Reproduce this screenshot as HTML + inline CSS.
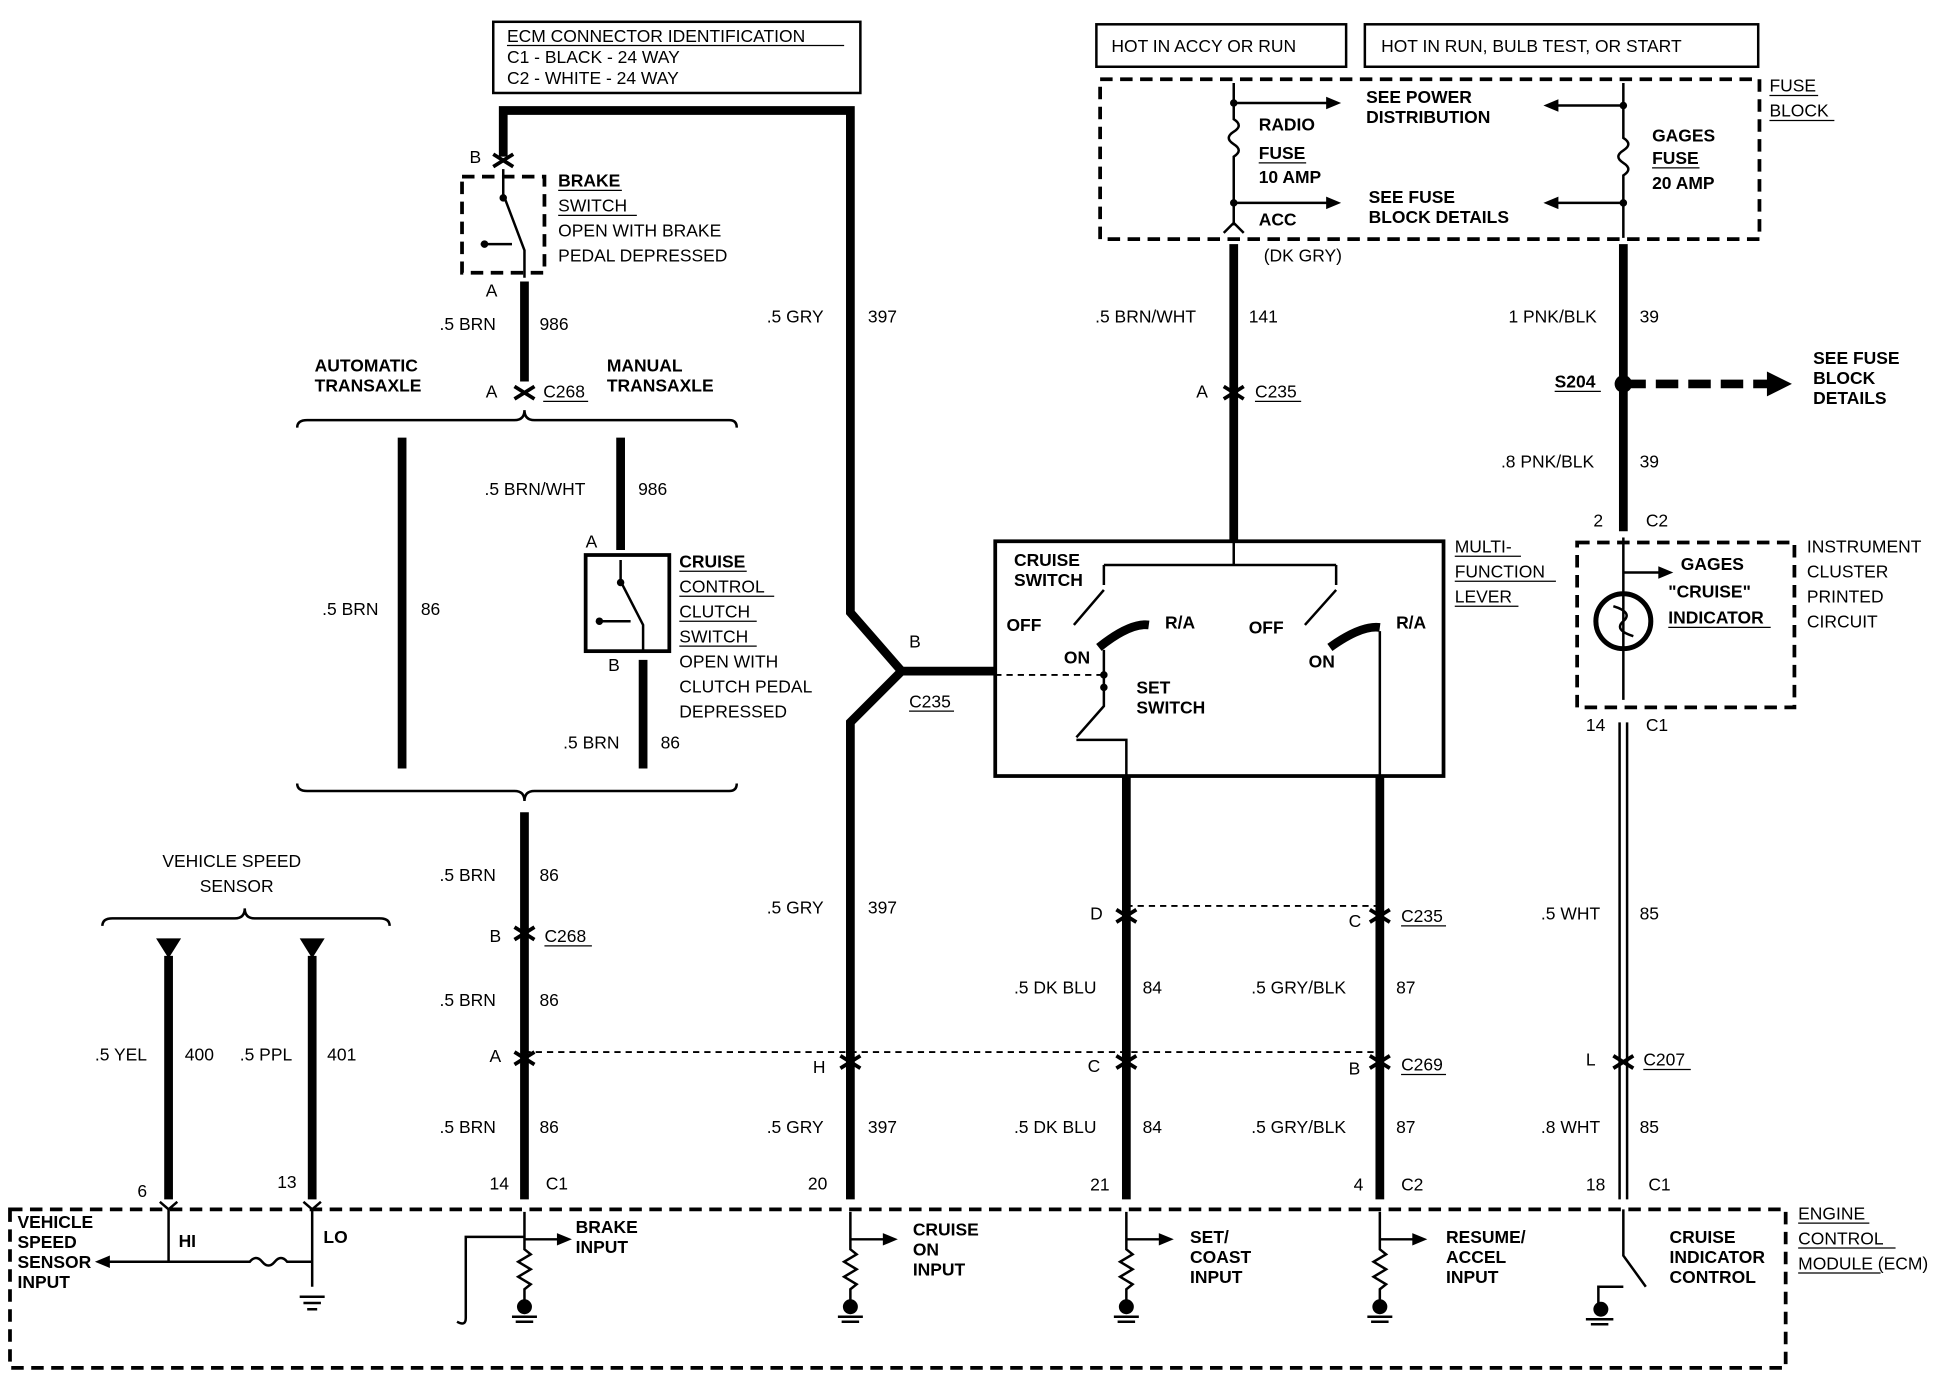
<!DOCTYPE html>
<html><head><meta charset="utf-8"><style>
html,body{margin:0;padding:0;background:#fff;}
svg{display:block;}
text{font-family:"Liberation Sans",sans-serif;font-size:14px;fill:#000;}
.b{font-weight:bold;}
.w{stroke:#000;stroke-width:7;fill:none;}
.t{stroke:#000;stroke-width:2;fill:none;}
.d{stroke:#000;stroke-width:3;fill:none;stroke-dasharray:10,6;}
.dl{stroke:#000;stroke-width:1.5;fill:none;stroke-dasharray:5,4;}
</style></head><body>
<svg width="1958" height="1376" viewBox="0 0 1568 1101" xmlns="http://www.w3.org/2000/svg">
<defs>
<g id="cn"><path d="M-8,-5 L0,0 L8,-5 M-8,5 L0,0 L8,5" stroke="#000" stroke-width="3" fill="none"/></g>
<g id="pull">
<path class="t" d="M0,0 L0,30 L5,34 L-5,40 L5,46 L-5,52 L5,58 L0,62 L0,72 M0,22 L28,22"/>
<path d="M26,17 L38,22 L26,27Z"/>
<circle cx="0" cy="76" r="6"/><path class="t" d="M-10,84 L10,84 M-7,88 L7,88"/>
</g>
</defs>
<!-- ECM connector ID -->
<rect x="395" y="17" width="294" height="57" class="t"/>
<text x="406" y="33">ECM CONNECTOR IDENTIFICATION</text>
<line x1="406" y1="36" x2="676" y2="36" stroke="#000"/>
<text x="406" y="50">C1 - BLACK - 24 WAY</text>
<text x="406" y="67">C2 - WHITE - 24 WAY</text>

<path class="w" d="M403,125 L403,88 L681,88 L681,490 L722,537 L681,578 L681,960"/>
<path class="w" d="M722,537 L797,537"/>
<text x="614" y="258">.5 GRY</text><text x="695" y="258">397</text>
<text x="614" y="731">.5 GRY</text><text x="695" y="731">397</text>
<text x="614" y="907">.5 GRY</text><text x="695" y="907">397</text>
<text x="728" y="518">B</text><text x="728" y="566">C235</text><line x1="728" y1="569" x2="764" y2="569" stroke="#000"/>
<text x="651" y="859">H</text><use href="#cn" x="681" y="850"/>
<text x="647" y="952">20</text>

<text x="376" y="130">B</text>
<use href="#cn" x="403" y="128"/>
<rect x="370" y="141" width="66" height="77" class="d"/>
<path class="t" d="M403,135 L403,155 L420,200 L420,222 M385,195 L410,195"/>
<circle cx="403" cy="158" r="3"/><circle cx="388" cy="195" r="3"/>
<text x="447" y="149" class="b">BRAKE</text><line x1="447" y1="152" x2="498" y2="152" stroke="#000"/>
<text x="447" y="169">SWITCH</text><line x1="447" y1="172" x2="510" y2="172" stroke="#000"/>
<text x="447" y="189">OPEN WITH BRAKE</text>
<text x="447" y="209">PEDAL DEPRESSED</text>
<text x="389" y="237">A</text>
<path class="w" d="M420,225 L420,305"/>
<text x="352" y="264">.5 BRN</text><text x="432" y="264">986</text>
<text x="389" y="318">A</text><text x="435" y="318">C268</text><line x1="435" y1="321" x2="471" y2="321" stroke="#000"/>
<use href="#cn" x="420" y="314"/>
<text x="252" y="297" class="b">AUTOMATIC</text><text x="252" y="313" class="b">TRANSAXLE</text>
<text x="486" y="297" class="b">MANUAL</text><text x="486" y="313" class="b">TRANSAXLE</text>
<path class="t" stroke-width="3" d="M238,342 Q238,336 246,336 L412,336 Q420,336 420,328 Q420,336 428,336 L584,336 Q590,336 590,342"/>
<path class="t" stroke-width="3" d="M238,627 Q238,633 246,633 L412,633 Q420,633 420,641 Q420,633 428,633 L584,633 Q590,633 590,627"/>
<path class="w" d="M322,350 L322,615"/>
<path class="w" d="M497,350 L497,440"/>
<path class="w" d="M515,528 L515,615"/>
<text x="258" y="492">.5 BRN</text><text x="337" y="492">86</text>
<text x="388" y="396">.5 BRN/WHT</text><text x="511" y="396">986</text>
<text x="469" y="438">A</text>
<rect x="469" y="444" width="67" height="77" fill="none" stroke="#000" stroke-width="3"/>
<path class="t" d="M497,448 L497,465 L515,500 L515,520 M478,497 L505,497"/>
<circle cx="497" cy="466" r="3"/><circle cx="480" cy="497" r="3"/>
<text x="544" y="454" class="b">CRUISE</text><line x1="544" y1="457" x2="598" y2="457" stroke="#000"/>
<text x="544" y="474">CONTROL</text><line x1="544" y1="477" x2="620" y2="477" stroke="#000"/>
<text x="544" y="494">CLUTCH</text><line x1="544" y1="497" x2="606" y2="497" stroke="#000"/>
<text x="544" y="514">SWITCH</text><line x1="544" y1="517" x2="606" y2="517" stroke="#000"/>
<text x="544" y="534">OPEN WITH</text><text x="544" y="554">CLUTCH PEDAL</text><text x="544" y="574">DEPRESSED</text>
<text x="487" y="537">B</text>
<text x="451" y="599">.5 BRN</text><text x="529" y="599">86</text>
<path class="w" d="M420,650 L420,960"/>
<text x="352" y="705">.5 BRN</text><text x="432" y="705">86</text>
<text x="392" y="754">B</text><use href="#cn" x="420" y="747"/><text x="436" y="754">C268</text><line x1="436" y1="757" x2="474" y2="757" stroke="#000"/>
<text x="352" y="805">.5 BRN</text><text x="432" y="805">86</text>
<text x="392" y="850">A</text><use href="#cn" x="420" y="847"/>
<text x="352" y="907">.5 BRN</text><text x="432" y="907">86</text>
<text x="392" y="952">14</text><text x="437" y="952">C1</text>
<text x="130" y="694">VEHICLE SPEED</text><text x="160" y="714">SENSOR</text>
<path class="t" stroke-width="3" d="M82,741 Q82,735 90,735 L188,735 Q196,735 196,727 Q196,735 204,735 L304,735 Q312,735 312,741"/>
<path d="M125,751 L145,751 L135,767 Z"/><path d="M240,751 L260,751 L250,767 Z"/>
<path class="w" d="M135,765 L135,960 M250,765 L250,960"/>
<text x="76" y="849">.5 YEL</text><text x="148" y="849">400</text>
<text x="192" y="849">.5 PPL</text><text x="262" y="849">401</text>
<text x="110" y="958">6</text><text x="222" y="951">13</text>
<path class="dl" d="M420,842 L1105,842"/>
<rect x="878" y="19" width="200" height="34" class="t"/>
<text x="890" y="41">HOT IN ACCY OR RUN</text>
<rect x="1093" y="19" width="315" height="34" class="t"/>
<text x="1106" y="41">HOT IN RUN, BULB TEST, OR START</text>
<rect x="881" y="63" width="528" height="128" class="d"/>
<text x="1417" y="73">FUSE</text><line x1="1417" y1="76" x2="1456" y2="76" stroke="#000"/>
<text x="1417" y="93">BLOCK</text><line x1="1417" y1="96" x2="1469" y2="96" stroke="#000"/>
<path class="t" d="M988,66 L988,95 Q996,100 988,105 Q980,110 988,115 Q996,120 988,125 L988,180"/>
<circle cx="988" cy="82" r="3"/><circle cx="988" cy="162" r="3"/>
<path class="t" d="M988,82 L1065,82 M988,162 L1065,162"/><path d="M1062,77 L1074,82 L1062,87Z M1062,157 L1074,162 L1062,167Z"/>
<text x="1008" y="104" class="b">RADIO</text>
<text x="1008" y="127" class="b">FUSE</text><line x1="1008" y1="130" x2="1046" y2="130" stroke="#000"/>
<text x="1008" y="146" class="b">10 AMP</text>
<text x="1094" y="82" class="b">SEE POWER</text><text x="1094" y="98" class="b">DISTRIBUTION</text>
<text x="1096" y="162" class="b">SEE FUSE</text><text x="1096" y="178" class="b">BLOCK DETAILS</text>
<text x="1008" y="180" class="b">ACC</text>
<path d="M980,186 L988,178 L996,186" class="t"/>
<text x="1012" y="209">(DK GRY)</text>
<path class="t" d="M1300,66 L1300,110 Q1308,115 1300,120 Q1292,125 1300,130 Q1308,135 1300,140 L1300,190"/>
<circle cx="1300" cy="84" r="3"/><circle cx="1300" cy="162" r="3"/>
<path class="t" d="M1245,84 L1300,84 M1245,162 L1300,162"/><path d="M1248,79 L1236,84 L1248,89Z M1248,157 L1236,162 L1248,167Z"/>
<text x="1323" y="113" class="b">GAGES</text>
<text x="1323" y="131" class="b">FUSE</text><line x1="1323" y1="134" x2="1361" y2="134" stroke="#000"/>
<text x="1323" y="151" class="b">20 AMP</text>
<path class="w" d="M988,195 L988,433"/>
<text x="877" y="258">.5 BRN/WHT</text><text x="1000" y="258">141</text>
<text x="958" y="318">A</text><use href="#cn" x="988" y="314"/><text x="1005" y="318">C235</text><line x1="1005" y1="321" x2="1042" y2="321" stroke="#000"/>
<path class="w" d="M1300,195 L1300,425"/>
<text x="1208" y="258">1 PNK/BLK</text><text x="1313" y="258">39</text>
<circle cx="1300" cy="307" r="7"/>
<text x="1245" y="310" class="b">S204</text><line x1="1245" y1="313" x2="1282" y2="313" stroke="#000"/>
<path d="M1300,307 L1420,307" stroke="#000" stroke-width="7" stroke-dasharray="18,8"/>
<path d="M1415,297 L1435,307 L1415,317Z"/>
<text x="1452" y="291" class="b">SEE FUSE</text><text x="1452" y="307" class="b">BLOCK</text><text x="1452" y="323" class="b">DETAILS</text>
<text x="1202" y="374">.8 PNK/BLK</text><text x="1313" y="374">39</text>
<text x="1276" y="421">2</text><text x="1318" y="421">C2</text>
<rect x="1263" y="434" width="174" height="132" class="d"/>
<path class="t" d="M1300,430 L1300,560"/>
<path class="t" d="M1300,458 L1330,458"/><path d="M1328,453 L1340,458 L1328,463Z"/>
<circle cx="1300" cy="497" r="22" fill="#fff" stroke="#000" stroke-width="4"/>
<path class="t" d="M1300,475 L1300,519 M1292,485 Q1308,490 1300,497 Q1292,504 1308,509"/>
<text x="1346" y="456" class="b">GAGES</text>
<text x="1336" y="478" class="b">"CRUISE"</text>
<text x="1336" y="499" class="b">INDICATOR</text><line x1="1336" y1="502" x2="1418" y2="502" stroke="#000"/>
<text x="1447" y="442">INSTRUMENT</text><text x="1447" y="462">CLUSTER</text><text x="1447" y="482">PRINTED</text><text x="1447" y="502">CIRCUIT</text>
<text x="1270" y="585">14</text><text x="1318" y="585">C1</text>
<path d="M1297,578 L1297,960 M1303,578 L1303,960" stroke="#000" stroke-width="2"/>
<text x="1234" y="736">.5 WHT</text><text x="1313" y="736">85</text>
<text x="1270" y="853">L</text><use href="#cn" x="1300" y="850"/><text x="1316" y="853">C207</text><line x1="1316" y1="856" x2="1354" y2="856" stroke="#000"/>
<text x="1234" y="907">.8 WHT</text><text x="1313" y="907">85</text>
<text x="1270" y="953">18</text><text x="1320" y="953">C1</text>
<rect x="797" y="433" width="359" height="188" fill="none" stroke="#000" stroke-width="3"/>
<text x="1165" y="442">MULTI-</text><line x1="1165" y1="445" x2="1218" y2="445" stroke="#000"/>
<text x="1165" y="462">FUNCTION</text><line x1="1165" y1="465" x2="1246" y2="465" stroke="#000"/>
<text x="1165" y="482">LEVER</text><line x1="1165" y1="485" x2="1216" y2="485" stroke="#000"/>
<text x="812" y="453" class="b">CRUISE</text><text x="812" y="469" class="b">SWITCH</text>
<path class="t" d="M988,433 L988,452 M884,452 L1070,452 M884,452 L884,468 M1070,452 L1070,468 M884,472 L860,500 M1070,472 L1045,500"/>
<path d="M880,518 Q905,498 920,500" stroke="#000" stroke-width="7" fill="none"/>
<path d="M1065,518 Q1090,500 1105,502" stroke="#000" stroke-width="7" fill="none"/>
<text x="806" y="505" class="b">OFF</text><text x="933" y="503" class="b">R/A</text>
<text x="1000" y="507" class="b">OFF</text><text x="1118" y="503" class="b">R/A</text>
<text x="852" y="531" class="b">ON</text><text x="1048" y="534" class="b">ON</text>
<path class="t" d="M884,520 L884,565 L862,590 M862,592 L902,592 L902,621 M1105,505 L1105,621"/>
<path class="dl" d="M797,540 L884,540"/>
<circle cx="884" cy="540" r="3"/><circle cx="884" cy="550" r="3"/>
<text x="910" y="555" class="b">SET</text><text x="910" y="571" class="b">SWITCH</text>
<path class="w" d="M902,621 L902,960 M1105,621 L1105,960"/>
<path class="dl" d="M902,725 L1105,725"/>
<text x="873" y="736">D</text><use href="#cn" x="902" y="733"/>
<text x="1080" y="742">C</text><use href="#cn" x="1105" y="733"/><text x="1122" y="738">C235</text><line x1="1122" y1="741" x2="1158" y2="741" stroke="#000"/>
<text x="812" y="795">.5 DK BLU</text><text x="915" y="795">84</text>
<text x="1002" y="795">.5 GRY/BLK</text><text x="1118" y="795">87</text>
<text x="871" y="858">C</text><use href="#cn" x="902" y="850"/>
<text x="1080" y="860">B</text><use href="#cn" x="1105" y="850"/><text x="1122" y="857">C269</text><line x1="1122" y1="860" x2="1158" y2="860" stroke="#000"/>
<text x="812" y="907">.5 DK BLU</text><text x="915" y="907">84</text>
<text x="1002" y="907">.5 GRY/BLK</text><text x="1118" y="907">87</text>
<text x="873" y="953">21</text><text x="1084" y="953">4</text><text x="1122" y="953">C2</text>
<rect x="8" y="968" width="1422" height="127" class="d"/>
<text x="1440" y="976">ENGINE</text><line x1="1440" y1="979" x2="1497" y2="979" stroke="#000"/>
<text x="1440" y="996">CONTROL</text><line x1="1440" y1="999" x2="1518" y2="999" stroke="#000"/>
<text x="1440" y="1016">MODULE (ECM)</text><line x1="1440" y1="1019" x2="1506" y2="1019" stroke="#000"/>
<g class="b">
<text x="14" y="983">VEHICLE</text><text x="14" y="999">SPEED</text><text x="14" y="1015">SENSOR</text><text x="14" y="1031">INPUT</text>
<text x="143" y="998">HI</text><text x="259" y="995">LO</text>
<text x="461" y="987">BRAKE</text><text x="461" y="1003">INPUT</text>
<text x="731" y="989">CRUISE</text><text x="731" y="1005">ON</text><text x="731" y="1021">INPUT</text>
<text x="953" y="995">SET/</text><text x="953" y="1011">COAST</text><text x="953" y="1027">INPUT</text>
<text x="1158" y="995">RESUME/</text><text x="1158" y="1011">ACCEL</text><text x="1158" y="1027">INPUT</text>
<text x="1337" y="995">CRUISE</text><text x="1337" y="1011">INDICATOR</text><text x="1337" y="1027">CONTROL</text>
</g>
<path class="t" d="M135,968 L135,1010 M250,968 L250,1030 M85,1010 L200,1010 Q205,1004 210,1010 Q215,1016 220,1010 Q225,1004 230,1010 L250,1010"/>
<path d="M88,1005 L76,1010 L88,1015Z"/>
<path class="t" d="M240,1038 L260,1038 M243,1043 L257,1043 M246,1048 L254,1048"/>
<use href="#pull" x="420" y="970"/>
<use href="#pull" x="681" y="970"/>
<use href="#pull" x="902" y="970"/>
<use href="#pull" x="1105" y="970"/>
<path class="t" d="M420,990 L373,990 L373,1055 Q373,1062 366,1058"/>
<path class="t" d="M1300,968 L1300,1005 L1318,1030 M1300,1030 L1280,1030 L1280,1048"/>
<circle cx="1282" cy="1048" r="6"/><path class="t" d="M1270,1056 L1292,1056 M1274,1060 L1288,1060"/>
<path class="t" d="M128,962 L135,968 L142,962 M243,962 L250,968 L257,962"/>
</svg>
</body></html>
